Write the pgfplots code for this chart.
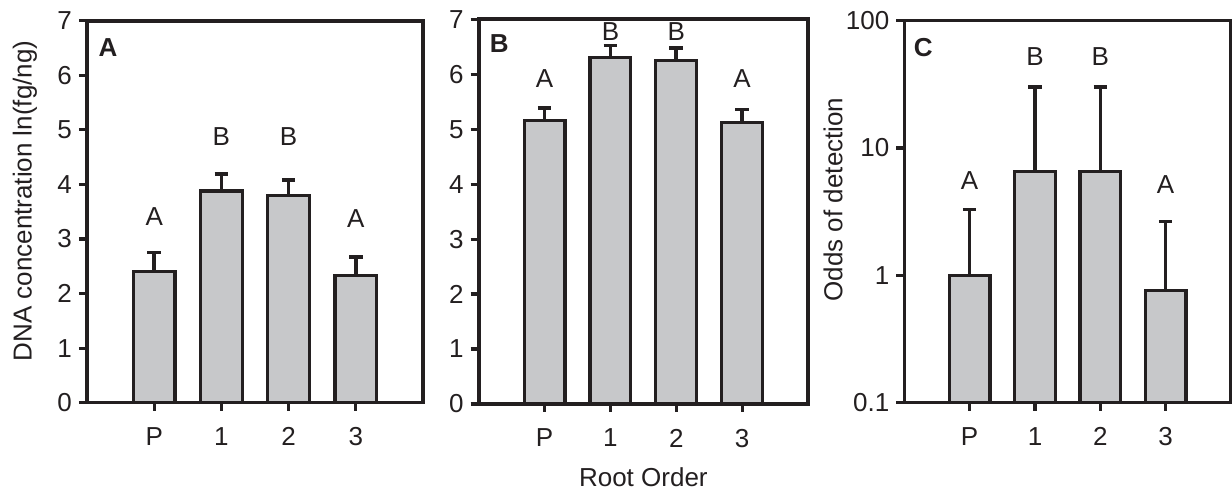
\documentclass[border=0pt]{standalone}
\usepackage{pgfplots}
\pgfplotsset{compat=1.18}
\usepackage{pgfplotstable}
\usepackage{fontspec}
\setmainfont{Liberation Sans}

\definecolor{ink}{HTML}{231F20}
\definecolor{barfill}{HTML}{C7C8CA}

% Root order: P = primary, 1-3 = lateral orders; e = upper standard error
\pgfplotstableread{
x y    e
0 2.40 0.35
1 3.88 0.31
2 3.79 0.29
3 2.33 0.34
}\dnaA
\pgfplotstableread{
x y    e
0 5.16 0.23
1 6.30 0.22
2 6.25 0.23
3 5.12 0.24
}\dnaB
\pgfplotstableread{
x y    e
0 1.00 2.30
1 6.50 23.7
2 6.50 23.7
3 0.76 1.88
}\odds

\newcommand{\lblfont}{\fontsize{13}{15}\selectfont}

\tikzset{
  letter/.style={font=\lblfont, text=ink, anchor=center},
  panel/.style={font=\lblfont\bfseries, text=ink, anchor=center},
}

\pgfplotsset{
  rootpanel/.style={
    scale only axis, anchor=south west,
    xmin=-1, xmax=4,
    xtick={0,1,2,3}, xticklabels={P,1,2,3},
    axis line style={ink, line width=1.8pt},
    tick align=outside, major tick length=4pt,
    every tick/.style={ink, line width=1.6pt},
    xtick pos=bottom, ytick pos=left,
    tick label style={font=\lblfont, text=ink},
    label style={font=\lblfont, text=ink},
    xticklabel style={yshift=-5pt},
    /pgf/number format/assume math mode=true,
  },
  rootbars/.style={
    ybar, bar width=0.62, draw=ink, line width=1.6pt, fill=barfill,
    error bars/.cd, y dir=plus, y explicit,
    error bar style={ink, line width=1.8pt},
    error mark options={rotate=90, ink, mark size=3.4pt, line width=1.8pt},
  },
}

\begin{document}
\begin{tikzpicture}
% Panel A: DNA concentration
\begin{axis}[rootpanel, at={(43.5pt,44.15pt)}, width=168pt, height=191pt,
  ymin=0, ymax=7, ytick={0,1,...,7},
  ylabel={DNA concentration ln(fg/ng)},
  ylabel style={at={(axis description cs:-0.185,0.528)}, anchor=center}]
  \addplot[rootbars] table[x=x, y=y, y error=e] {\dnaA};
  \node[letter] at (axis cs:0,3.42) {A};
  \node[letter] at (axis cs:1,4.87) {B};
  \node[letter] at (axis cs:2,4.87) {B};
  \node[letter] at (axis cs:3,3.38) {A};
  \node[panel] at (axis description cs:0.0625,0.931) {A};
\end{axis}

% Panel B: DNA concentration
\begin{axis}[rootpanel, at={(239.35pt,43.5pt)}, width=164.65pt, height=192.35pt,
  ymin=0, ymax=7, ytick={0,1,...,7},
  xlabel={Root Order},
  xlabel style={at={(axis description cs:0.5,-0.19)}, anchor=center}]
  \addplot[rootbars] table[x=x, y=y, y error=e] {\dnaB};
  \node[letter] at (axis cs:0,5.92) {A};
  \node[letter] at (axis cs:1,6.77) {B};
  \node[letter] at (axis cs:2,6.77) {B};
  \node[letter] at (axis cs:3,5.92) {A};
  \node[panel] at (axis description cs:0.0625,0.936) {B};
\end{axis}

% Panel C: odds of detection (log scale)
\begin{axis}[rootpanel, at={(452.15pt,44.15pt)}, width=163.35pt, height=191pt,
  ymode=log, log origin y=infty, ymin=0.1, ymax=100,
  ytick={0.1,1,10,100}, yticklabels={0.1,1,10,100},
  yminorticks=false,
  ylabel={Odds of detection},
  ylabel style={at={(axis description cs:-0.218,0.532)}, anchor=center}]
  \addplot[rootbars] table[x=x, y=y, y error=e] {\odds};
  \node[letter] at (axis cs:0,5.6) {A};
  \node[letter] at (axis cs:1,52) {B};
  \node[letter] at (axis cs:2,52) {B};
  \node[letter] at (axis cs:3,5.2) {A};
  \node[panel] at (axis description cs:0.058,0.93) {C};
\end{axis}

\pgfresetboundingbox
\useasboundingbox (0,0) rectangle (616pt,245.5pt);
\end{tikzpicture}
\end{document}
